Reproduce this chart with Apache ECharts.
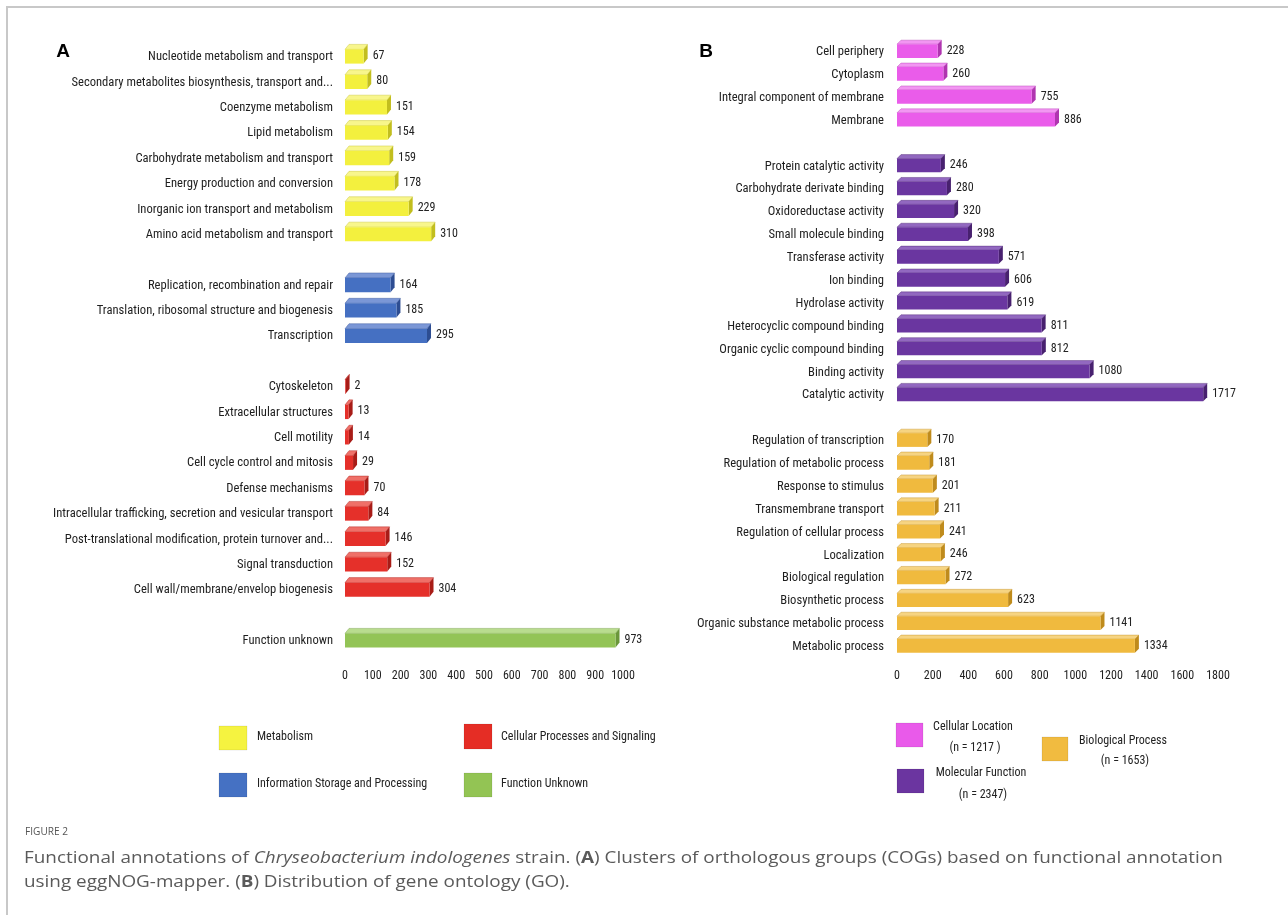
<!DOCTYPE html>
<html>
<head>
<meta charset="utf-8">
<script src="https://cdn.jsdelivr.net/npm/echarts@6/dist/echarts.min.js"></script>
<style>
  html, body { margin: 0; padding: 0; background: #ffffff; }
  #chart { width: 1288px; height: 915px; }
</style>
</head>
<body>
<div id="chart"></div>
<script>
// ---- COG functional categories (panel A) ----
const metabolismCats = [
  'Nucleotide metabolism and transport',
  'Secondary metabolites biosynthesis, transport and...',
  'Coenzyme metabolism',
  'Lipid metabolism',
  'Carbohydrate metabolism and transport',
  'Energy production and conversion',
  'Inorganic ion transport and metabolism',
  'Amino acid metabolism and transport'
];
const metabolismVals = [67, 80, 151, 154, 159, 178, 229, 310];

const infoCats = [
  'Replication, recombination and repair',
  'Translation, ribosomal structure and biogenesis',
  'Transcription'
];
const infoVals = [164, 185, 295];

const cellularCats = [
  'Cytoskeleton',
  'Extracellular structures',
  'Cell motility',
  'Cell cycle control and mitosis',
  'Defense mechanisms',
  'Intracellular trafficking, secretion and vesicular transport',
  'Post-translational modification, protein turnover and...',
  'Signal transduction',
  'Cell wall/membrane/envelop biogenesis'
];
const cellularVals = [2, 13, 14, 29, 70, 84, 146, 152, 304];

const unknownCats = ['Function unknown'];
const unknownVals = [973];

const cogTicks = [0, 100, 200, 300, 400, 500, 600, 700, 800, 900, 1000];

// ---- Gene ontology terms (panel B) ----
const locationCats = ['Cell periphery', 'Cytoplasm', 'Integral component of membrane', 'Membrane'];
const locationVals = [228, 260, 755, 886];

const molecularCats = [
  'Protein catalytic activity',
  'Carbohydrate derivate binding',
  'Oxidoreductase activity',
  'Small molecule binding',
  'Transferase activity',
  'Ion binding',
  'Hydrolase activity',
  'Heterocyclic compound binding',
  'Organic cyclic compound binding',
  'Binding activity',
  'Catalytic activity'
];
const molecularVals = [246, 280, 320, 398, 571, 606, 619, 811, 812, 1080, 1717];

const biologicalCats = [
  'Regulation of transcription',
  'Regulation of metabolic process',
  'Response to stimulus',
  'Transmembrane transport',
  'Regulation of cellular process',
  'Localization',
  'Biological regulation',
  'Biosynthetic process',
  'Organic substance metabolic process',
  'Metabolic process'
];
const biologicalVals = [170, 181, 201, 211, 241, 246, 272, 623, 1141, 1334];

const goTicks = [0, 200, 400, 600, 800, 1000, 1200, 1400, 1600, 1800];

// ---- colour sets per group: front face, top face, side face ----
const cogColors = [
  { front: '#f3f03e', top: '#f8f68c', side: '#c2be1e' },   // Metabolism
  { front: '#4570c2', top: '#7b97d6', side: '#2d4d92' },   // Information storage
  { front: '#e5302a', top: '#ef7068', side: '#a81c17' },   // Cellular processes
  { front: '#93c456', top: '#b9dc8e', side: '#6a973a' }    // Unknown
];
const goColors = [
  { front: '#ea5cea', top: '#f296f2', side: '#b035b0' },   // Cellular location
  { front: '#6a36a0', top: '#9268c0', side: '#48216f' },   // Molecular function
  { front: '#f0ba3e', top: '#f6d482', side: '#bf8b1c' }    // Biological process
];

const FONT = '"Liberation Sans Narrow", "Arial Narrow", "Roboto Condensed", Roboto, sans-serif';
const CAPTION_FONT = '"Open Sans", "Noto Sans", sans-serif';

// Flatten groups into one category list with blank spacer rows between groups
function buildPanel(groups) {
  const cats = [];
  const data = [];
  groups.forEach((g, gi) => {
    if (gi > 0) cats.push(' '.repeat(gi));
    g.cats.forEach((c, i) => {
      data.push([g.vals[i], cats.length, gi]);
      cats.push(c);
    });
  });
  return { cats, data };
}

const panelA = buildPanel([
  { cats: metabolismCats, vals: metabolismVals },
  { cats: infoCats, vals: infoVals },
  { cats: cellularCats, vals: cellularVals },
  { cats: unknownCats, vals: unknownVals }
]);
const panelB = buildPanel([
  { cats: locationCats, vals: locationVals },
  { cats: molecularCats, vals: molecularVals },
  { cats: biologicalCats, vals: biologicalVals }
]);

// 3D-looking horizontal bar: front face + slanted top + right side, with value text
function bar3d(palette, ratio, depth) {
  return function (params, api) {
    const v = api.value(0);
    const c = api.value(1);
    const col = palette[api.value(2)];
    const p0 = api.coord([0, c]);
    const p1 = api.coord([v, c]);
    const band = api.size([0, 1])[1];
    const h = band * ratio;
    const dx = 4, dy = depth;
    const x0 = p0[0], x1 = p1[0];
    const yc = p0[1] - 3;
    const yt = yc - h / 2 + dy / 2, yb = yc + h / 2 + dy / 2;
    return {
      type: 'group',
      children: [
        { type: 'polygon', shape: { points: [[x0, yt], [x1, yt], [x1 + dx, yt - dy], [x0 + dx, yt - dy]] },
          style: { fill: col.top, stroke: col.side, lineWidth: 0.4 } },
        { type: 'polygon', shape: { points: [[x1, yt], [x1 + dx, yt - dy], [x1 + dx, yb - dy], [x1, yb]] },
          style: { fill: col.side } },
        { type: 'rect', shape: { x: x0, y: yt, width: Math.max(x1 - x0, 0.6), height: yb - yt },
          style: { fill: col.front } },
        { type: 'text', x: x1 + dx + 5, y: p0[1] - 1,
          style: { text: String(v), fill: '#222', font: '12px ' + FONT, verticalAlign: 'middle', align: 'left' } }
      ]
    };
  };
}

const chart = echarts.init(document.getElementById('chart'), null, { renderer: 'canvas' });

const catLabel = { color: '#1e1e1e', fontSize: 12.6, fontFamily: FONT, margin: 12 };
const tickLabel = { color: '#222', fontSize: 12, fontFamily: FONT, formatter: (v) => String(v) };

function legendBox(x, y, w, h, fill) {
  return { type: 'rect', shape: { x, y, width: w, height: h }, style: { fill, stroke: 'rgba(0,0,0,0.08)', lineWidth: 1 } };
}
function legendText(x, y, text, align) {
  return { type: 'text', x, y, style: { text, fill: '#222', font: '12px ' + FONT, verticalAlign: 'middle', align: align || 'left' } };
}

chart.setOption({
  animation: false,
  backgroundColor: '#ffffff',
  grid: [
    { left: 345, top: 44.3, width: 278, height: 609.4, containLabel: false },
    { left: 897, top: 40.6, width: 321, height: 617.8, containLabel: false }
  ],
  xAxis: [
    { gridIndex: 0, type: 'value', min: cogTicks[0], max: cogTicks[cogTicks.length - 1], interval: cogTicks[1] - cogTicks[0],
      axisLine: { show: false }, axisTick: { show: false }, splitLine: { show: false },
      axisLabel: Object.assign({ margin: 16 }, tickLabel) },
    { gridIndex: 1, type: 'value', min: goTicks[0], max: goTicks[goTicks.length - 1], interval: goTicks[1] - goTicks[0],
      axisLine: { show: false }, axisTick: { show: false }, splitLine: { show: false },
      axisLabel: Object.assign({ margin: 12 }, tickLabel) }
  ],
  yAxis: [
    { gridIndex: 0, type: 'category', inverse: true, data: panelA.cats,
      axisLine: { show: false }, axisTick: { show: false }, splitLine: { show: false },
      axisLabel: Object.assign({}, catLabel, { interval: 0 }) },
    { gridIndex: 1, type: 'category', inverse: true, data: panelB.cats,
      axisLine: { show: false }, axisTick: { show: false }, splitLine: { show: false },
      axisLabel: Object.assign({}, catLabel, { interval: 0, margin: 13 }) }
  ],
  series: [
    { type: 'custom', xAxisIndex: 0, yAxisIndex: 0, data: panelA.data, encode: { x: 0, y: 1 },
      clip: false, renderItem: bar3d(cogColors, 0.56, 5) },
    { type: 'custom', xAxisIndex: 1, yAxisIndex: 1, data: panelB.data, encode: { x: 0, y: 1 },
      clip: false, renderItem: bar3d(goColors, 0.6, 4) }
  ],
  graphic: [
    // figure frame
    { type: 'polyline', shape: { points: [[7, 915], [7, 7], [1288, 7]] }, style: { stroke: '#c8c8c8', lineWidth: 2, fill: null } },
    // panel letters
    { type: 'text', x: 63, y: 52, style: { text: 'A', fill: '#000', font: 'bold 19px "Liberation Sans", Arial, sans-serif', align: 'center', verticalAlign: 'middle' } },
    { type: 'text', x: 706, y: 52, style: { text: 'B', fill: '#000', font: 'bold 19px "Liberation Sans", Arial, sans-serif', align: 'center', verticalAlign: 'middle' } },
    // COG legend
    legendBox(219, 726, 28, 24, '#f5f340'),
    legendText(257, 737, 'Metabolism'),
    legendBox(464, 724, 28, 25, '#e52d25'),
    legendText(501, 737, 'Cellular Processes and Signaling'),
    legendBox(219, 773, 28, 24, '#4571c3'),
    legendText(257, 784, 'Information Storage and Processing'),
    legendBox(464, 773, 28, 24, '#93c454'),
    legendText(501, 784, 'Function Unknown'),
    // GO legend
    legendBox(896, 723, 27, 24, '#e95aea'),
    legendText(973, 727, 'Cellular Location', 'center'),
    legendText(975, 748, '(n = 1217 )', 'center'),
    legendBox(897, 769, 27, 24, '#6b35a0'),
    legendText(981, 773, 'Molecular Function', 'center'),
    legendText(983, 795, '(n = 2347)', 'center'),
    legendBox(1042, 737, 26, 24, '#f1bb40'),
    legendText(1123, 741, 'Biological Process', 'center'),
    legendText(1125, 761, '(n = 1653)', 'center'),
    // caption
    { type: 'text', x: 25, y: 832, scaleX: 0.92, style: { text: 'FIGURE 2', fill: '#555', font: '11px ' + CAPTION_FONT, verticalAlign: 'middle' } },
    { type: 'text', x: 24, y: 858, scaleX: 1.18, style: {
        text: 'Functional annotations of {i|Chryseobacterium indologenes} strain. ({b|A}) Clusters of orthologous groups (COGs) based on functional annotation',
        fill: '#5a5a5a', font: '16px ' + CAPTION_FONT, verticalAlign: 'middle',
        rich: { i: { fontStyle: 'italic', fontSize: 16, fontFamily: CAPTION_FONT, fill: '#5a5a5a' },
                b: { fontWeight: 'bold', fontSize: 16, fontFamily: CAPTION_FONT, fill: '#5a5a5a' } } } },
    { type: 'text', x: 24, y: 882, scaleX: 1.18, style: {
        text: 'using eggNOG-mapper. ({b|B}) Distribution of gene ontology (GO).',
        fill: '#5a5a5a', font: '16px ' + CAPTION_FONT, verticalAlign: 'middle',
        rich: { b: { fontWeight: 'bold', fontSize: 16, fontFamily: CAPTION_FONT, fill: '#5a5a5a' } } } }
  ]
});
</script>
</body>
</html>
